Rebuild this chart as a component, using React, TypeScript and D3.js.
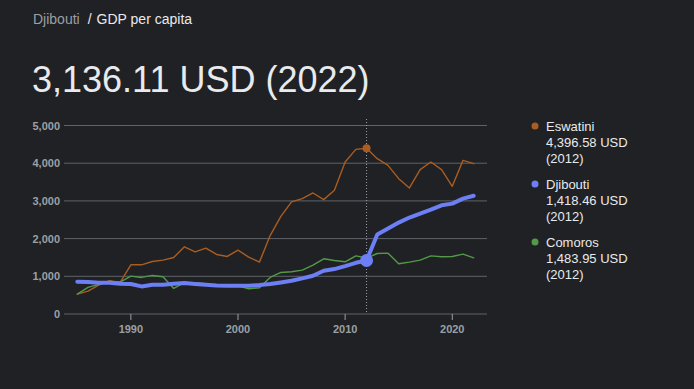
import React from 'react';
import * as d3 from 'd3';

const years = d3.range(1985, 2023);

const eswatini = [529, 608, 767, 882, 838, 1305, 1305, 1393, 1429, 1499, 1782, 1650, 1746, 1579, 1526, 1693, 1508, 1376, 2080, 2590, 2972, 3060, 3210, 3034, 3281, 4031, 4366, 4396.58, 4119, 3943, 3590, 3343, 3828, 4031, 3828, 3387, 4075, 3987];
const djibouti = [855, 847, 829, 829, 803, 794, 732, 776, 776, 803, 820, 794, 776, 758, 750, 750, 750, 767, 794, 838, 882, 944, 1014, 1146, 1191, 1270, 1358, 1418.46, 2108, 2267, 2425, 2558, 2663, 2769, 2884, 2928, 3060, 3136.11];
const comoros = [529, 706, 785, 864, 847, 1005, 970, 1023, 988, 679, 829, 829, 803, 750, 750, 750, 670, 697, 970, 1102, 1120, 1164, 1297, 1464, 1420, 1385, 1543, 1483.95, 1605, 1614, 1332, 1375, 1429, 1543, 1517, 1526, 1587, 1490];

const yTicks = [0, 1000, 2000, 3000, 4000, 5000];
const xTicks = [1990, 2000, 2010, 2020];
const focusYear = 2012;

const series = [
    { name: 'Eswatini', values: eswatini, color: '#a85d22', width: 1.4, dot: 4 },
    { name: 'Djibouti', values: djibouti, color: '#6d7ff4', width: 4, dot: 6.5 },
    { name: 'Comoros', values: comoros, color: '#529a47', width: 1.4, dot: 0 }
];
const legendOrder = ['Eswatini', 'Djibouti', 'Comoros'];

const W = 694;
const H = 389;
const font = '"Liberation Sans", Arial, sans-serif';

const App = () => {
    const x = d3.scaleLinear().domain([1985, 2022]).range([77.3, 473.7]);
    const y = d3.scaleLinear().domain([0, 5000]).range([314, 125.5]);
    const gridLeft = 64;
    const gridRight = 487;

    const line = d3.line<number>()
        .x((_, i) => x(years[i]))
        .y(d => y(d));

    const fi = years.indexOf(focusYear);
    const fmt = d3.format(',.2f');

    // thin lines first, thick blue on top
    const drawOrder = [series[0], series[2], series[1]];

    return (
        <div style={{ position: 'fixed', left: 0, top: 0, width: W, height: H, background: '#202124', overflow: 'hidden' }}>
            <svg width={W} height={H} style={{ display: 'block', fontFamily: font }}>
                <rect width={W} height={H} fill="#202124" />

                <text x={33} y={24} fontSize={14}>
                    <tspan fill="#9aa0a6">Djibouti</tspan>
                    <tspan fill="#e8eaed" dx={8}>/</tspan>
                    <tspan fill="#e8eaed" dx={5}>GDP per capita</tspan>
                </text>
                <text x={32} y={92} fontSize={36} fill="#e8eaed">
                    {fmt(djibouti[djibouti.length - 1])} USD ({years[years.length - 1]})
                </text>

                {/* grid */}
                {yTicks.map(t => (
                    <g key={t}>
                        <line x1={gridLeft} x2={gridRight} y1={y(t)} y2={y(t)} stroke="#5f6368" strokeWidth={1} />
                        <text x={60} y={y(t) + 4} textAnchor="end" fontSize={11} fontWeight="bold" fill="#9aa0a6">
                            {d3.format(',')(t)}
                        </text>
                    </g>
                ))}

                {xTicks.map(t => (
                    <g key={t}>
                        <line x1={x(t)} x2={x(t)} y1={y(0)} y2={y(0) + 6} stroke="#9aa0a6" strokeWidth={1} />
                        <text x={x(t)} y={333} textAnchor="middle" fontSize={11} fontWeight="bold" fill="#9aa0a6">{t}</text>
                    </g>
                ))}

                <line x1={x(focusYear)} x2={x(focusYear)} y1={119} y2={y(0)} stroke="#9aa0a6" strokeWidth={1} strokeDasharray="1,2" />

                {drawOrder.map(s => (
                    <path key={s.name} d={line(s.values) || ''} fill="none" stroke={s.color}
                        strokeWidth={s.width} strokeLinejoin="round" strokeLinecap="round" />
                ))}

                {drawOrder.filter(s => s.dot > 0).map(s => (
                    <circle key={s.name} cx={x(focusYear)} cy={y(s.values[fi])} r={s.dot} fill={s.color} />
                ))}

                {/* legend */}
                {legendOrder.map((name, i) => {
                    const s = series.find(d => d.name === name)!;
                    const cy = 126 + i * 58;
                    return (
                        <g key={name}>
                            <circle cx={535} cy={cy} r={3.5} fill={s.color} />
                            <text x={546} fontSize={13} fill="#e8eaed">
                                <tspan x={546} y={cy + 5}>{name}</tspan>
                                <tspan x={546} y={cy + 21}>{fmt(s.values[fi])} USD</tspan>
                                <tspan x={546} y={cy + 37}>({focusYear})</tspan>
                            </text>
                        </g>
                    );
                })}
            </svg>
        </div>
    );
};

export default App;
